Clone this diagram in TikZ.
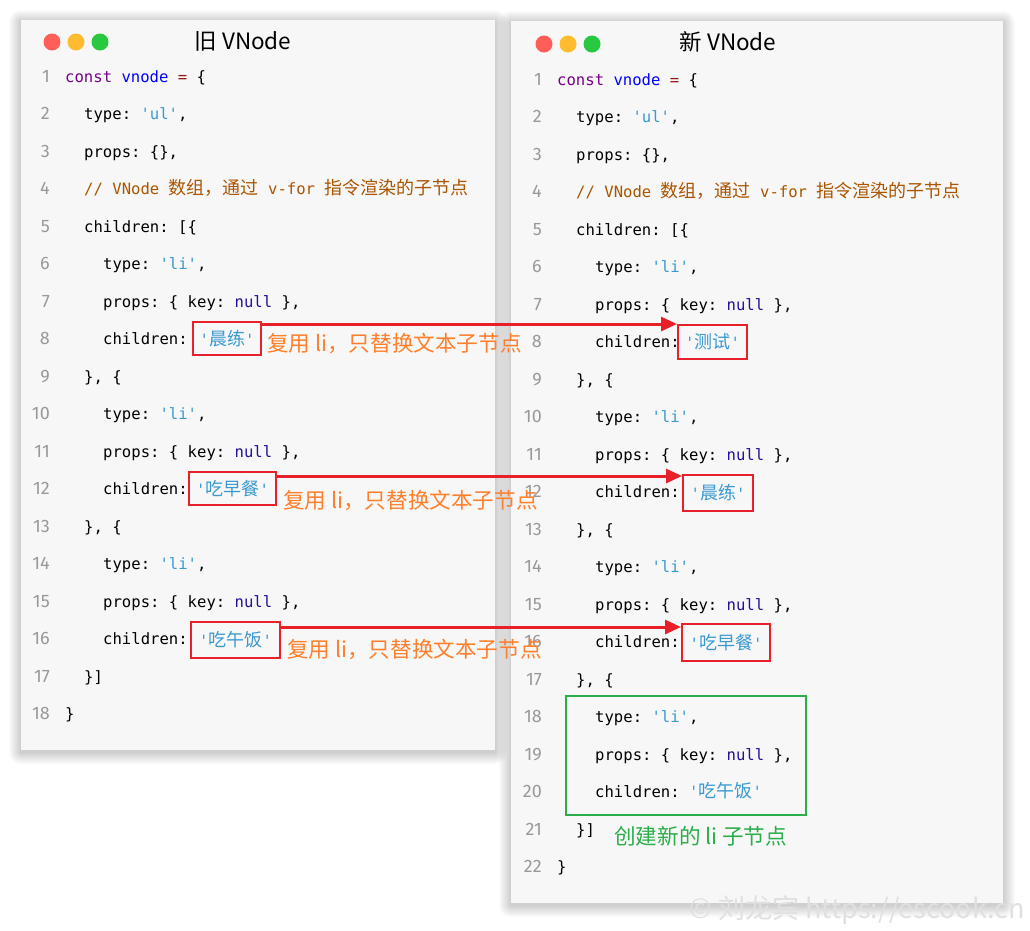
\documentclass[tikz,border=0pt]{standalone}
\usepackage{fontspec}
\setmainfont{Noto Sans}
\setmonofont{DejaVu Sans Mono}
\newfontfamily\cjk{Noto Sans CJK SC}
\newfontfamily\numfont{Fira Sans}
\usetikzlibrary{arrows.meta}
\definecolor{kwc}{HTML}{770088}
\definecolor{defc}{HTML}{0000FF}
\definecolor{opc}{HTML}{981A1A}
\definecolor{strc}{HTML}{3A9AD0}
\definecolor{atomc}{HTML}{221199}
\definecolor{comc}{HTML}{AA5500}
\definecolor{numc}{HTML}{999999}
\definecolor{panelbg}{HTML}{F7F7F7}
\definecolor{boxred}{HTML}{E8202A}
\definecolor{annoc}{HTML}{FF7F2A}
\definecolor{greenc}{HTML}{2AAE4A}
\definecolor{tlred}{HTML}{FF5F57}
\definecolor{tlyel}{HTML}{FEBC2E}
\definecolor{tlgrn}{HTML}{28C840}
\newcommand\ckw[1]{\textcolor{kwc}{#1}}
\newcommand\cdf[1]{\textcolor{defc}{#1}}
\newcommand\cop[1]{\textcolor{opc}{#1}}
\newcommand\cstr[1]{\textcolor{strc}{#1}}
\newcommand\catom[1]{\textcolor{atomc}{#1}}
\newcommand\ccom[1]{\textcolor{comc}{#1}}
\newcommand\zh[1]{{\fontsize{18}{20}\selectfont\cjk #1}}
\newcommand\Lline[3]{%
  \node[codetxt] (l#1) at ({65+19*#2},{82.5+(#1-1)*37.47}) {#3};
  \node[lnum] (ln#1) at (50,{82.5+(#1-1)*37.47}) {#1};}
\newcommand\Rline[3]{%
  \node[codetxt] (r#1) at ({557+19*#2},{85.5+(#1-1)*37.48}) {#3};
  \node[lnum] (rn#1) at (542,{85.5+(#1-1)*37.48}) {#1};}
\newcommand\panelshadow[4]{%
  \foreach \i in {1,...,12} {
    \fill[black,opacity=0.014,rounded corners=\i pt] ({#1-\i},{#2-\i+2}) rectangle ({#3+\i},{#4+\i+2});
  }
  \fill[panelbg] (#1,#2) rectangle (#3,#4);}
\tikzset{
  codetxt/.style={anchor=base west, inner sep=0pt, text=black,
    font=\ttfamily\fontsize{15.6}{18}\selectfont},
  lnum/.style={anchor=base east, inner sep=0pt, text=numc,
    font=\numfont\fontsize{18}{20}\selectfont},
  strbox/.style={draw=boxred, line width=2pt, inner sep=0pt, text=strc,
    font=\ttfamily\fontsize{15.6}{18}\selectfont},
  anno/.style={anchor=west, inner sep=0pt, text=annoc,
    font=\cjk\fontsize{21.6}{24}\selectfont},
  arr/.style={draw=boxred, line width=3pt, -{Triangle[length=16pt,width=14pt]}},
  title/.style={inner sep=0pt, text=black, font=\cjk\fontsize{22.5}{26}\selectfont},
  light/.style={circle, inner sep=0pt, minimum size=17pt},
  gbox/.style={draw=greenc, line width=2pt, inner sep=0pt},
}
\begin{document}
\begin{tikzpicture}[x=1pt,y=-1pt]
\useasboundingbox (0,0) rectangle (1030,930);
\fill[white] (0,0) rectangle (1030,930);
% panels
\panelshadow{21}{20}{495}{750}
\panelshadow{511}{21}{1003}{903}
% window controls
\node[light, fill=tlred] (lr) at (52,42) {};
\node[light, fill=tlyel] (ly) at (76,42) {};
\node[light, fill=tlgrn] (lg) at (100,42) {};
\node[light, fill=tlred] (rr) at (544,44) {};
\node[light, fill=tlyel] (ry) at (568,44) {};
\node[light, fill=tlgrn] (rg) at (592,44) {};
\node[title] (tl) at (243,41) {旧 VNode};
\node[title] (tr) at (728,42) {新 VNode};
% left code
\Lline{1}{0}{\ckw{const} \cdf{vnode} \cop{=} \{}
\Lline{2}{1}{type: \cstr{'ul'},}
\Lline{3}{1}{props: \{\},}
\Lline{4}{1}{\ccom{// VNode \zh{数组，通过} v-for \zh{指令渲染的子节点}}}
\Lline{5}{1}{children: [\{}
\Lline{6}{2}{type: \cstr{'li'},}
\Lline{7}{2}{props: \{ key: \catom{null} \},}
\Lline{8}{2}{children:}
\Lline{9}{1}{\}, \{}
\Lline{10}{2}{type: \cstr{'li'},}
\Lline{11}{2}{props: \{ key: \catom{null} \},}
\Lline{12}{2}{children:}
\Lline{13}{1}{\}, \{}
\Lline{14}{2}{type: \cstr{'li'},}
\Lline{15}{2}{props: \{ key: \catom{null} \},}
\Lline{16}{2}{children:}
\Lline{17}{1}{\}]}
\Lline{18}{0}{\}}
% right code
\Rline{1}{0}{\ckw{const} \cdf{vnode} \cop{=} \{}
\Rline{2}{1}{type: \cstr{'ul'},}
\Rline{3}{1}{props: \{\},}
\Rline{4}{1}{\ccom{// VNode \zh{数组，通过} v-for \zh{指令渲染的子节点}}}
\Rline{5}{1}{children: [\{}
\Rline{6}{2}{type: \cstr{'li'},}
\Rline{7}{2}{props: \{ key: \catom{null} \},}
\Rline{8}{2}{children:}
\Rline{9}{1}{\}, \{}
\Rline{10}{2}{type: \cstr{'li'},}
\Rline{11}{2}{props: \{ key: \catom{null} \},}
\Rline{12}{2}{children:}
\Rline{13}{1}{\}, \{}
\Rline{14}{2}{type: \cstr{'li'},}
\Rline{15}{2}{props: \{ key: \catom{null} \},}
\Rline{16}{2}{children:}
\Rline{17}{1}{\}, \{}
\Rline{18}{2}{type: \cstr{'li'},}
\Rline{19}{2}{props: \{ key: \catom{null} \},}
\Rline{20}{2}{children: \cstr{'\zh{吃午饭}'}}
\Rline{21}{1}{\}]}
\Rline{22}{0}{\}}
% boxed strings
\node[strbox, minimum width=68pt, minimum height=33pt] (lb8) at (227,338.5) {'\zh{晨练}'};
\node[strbox, minimum width=87pt, minimum height=33pt] (lb12) at (232.5,488.5) {'\zh{吃早餐}'};
\node[strbox, minimum width=89pt, minimum height=36pt] (lb16) at (235.5,640) {'\zh{吃午饭}'};
\node[strbox, minimum width=69pt, minimum height=34pt] (rb8) at (712.5,342) {'\zh{测试}'};
\node[strbox, minimum width=70pt, minimum height=36pt] (rb12) at (718,493) {'\zh{晨练}'};
\node[strbox, minimum width=88pt, minimum height=37pt] (rb16) at (726,642.5) {'\zh{吃早餐}'};
% green box
\node[gbox, minimum width=240pt, minimum height=119pt] (gb) at (686,755.5) {};
\node[anno, text=greenc] (gt) at (614,836) {创建新的 li 子节点};
% arrows
\draw[arr] ([yshift=-3pt]lb8.north east) coordinate (a1) -- (a1 -| rb8.west);
\draw[arr] ([yshift=-5pt]lb12.north east) coordinate (a2) -- (a2 -| rb12.west);
\draw[arr] ([yshift=-6pt]lb16.north east) coordinate (a3) -- (a3 -| rb16.west);
% annotations
\node[anno] (n1) at (267,343) {复用 li，只替换文本子节点};
\node[anno] (n2) at (283,500) {复用 li，只替换文本子节点};
\node[anno] (n3) at (287,649) {复用 li，只替换文本子节点};
% watermark
\node[anchor=east, inner sep=0pt, text=black!12, font=\cjk\fontsize{27}{30}\selectfont] (wm) at (1025,910) {© 刘龙宾 https://escook.cn};
\end{tikzpicture}
\end{document}
